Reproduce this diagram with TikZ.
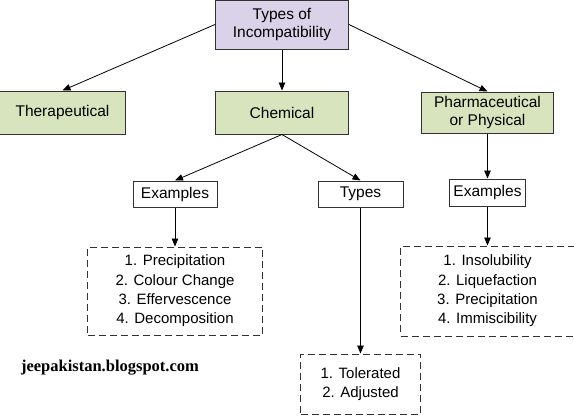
\documentclass[tikz,border=0pt]{standalone}
\usepackage{fontspec}
\setmainfont{Liberation Sans}
\newfontfamily\markfont{Liberation Serif}
\usetikzlibrary{arrows.meta,positioning}
\definecolor{incolilac}{RGB}{217,210,233}
\definecolor{incogreen}{RGB}{215,228,189}
\definecolor{incoline}{RGB}{50,50,50}
\tikzset{
	rootbox/.style={
		rectangle,
		draw=incoline,
		line width=1pt,
		fill=incolilac,
		minimum width=133pt,
		minimum height=49pt,
		inner sep=0pt,
		align=center,
		font=\fontsize{15.5}{18.5}\selectfont,
	},
	kindbox/.style={
		rootbox,
		fill=incogreen,
		minimum height=43pt,
	},
	tagbox/.style={
		rectangle,
		draw=incoline,
		line width=1pt,
		fill=white,
		minimum height=26pt,
		inner sep=0pt,
		font=\fontsize{15.5}{18.5}\selectfont,
	},
	listbox/.style={
		rectangle,
		draw=incoline,
		line width=1pt,
		dash pattern=on 7pt off 4pt,
		inner sep=0pt,
		align=center,
		font=\fontsize{15}{19.3}\selectfont,
	},
	arc/.style={
		-{Triangle[length=8pt,width=6.5pt]},
		line width=0.8pt,
	},
}

\begin{document}
\begin{tikzpicture}[x=1pt,y=-1pt]
	\useasboundingbox (0,0) rectangle (574,418);

	\node [rootbox] (top) at (282,24.5) {Types of\\Incompatibility};

	\node [
	  kindbox,
	  below=41pt of top
	] (chem) {Chemical};
	\node [
	  kindbox,
	  minimum width=126pt,
	  left=89pt of chem
	] (ther) {Therapeutical};
	\node [
	  kindbox,
	  minimum width=132pt,
	  minimum height=41pt,
	  right=72pt of chem
	] (pharm) {Pharmaceutical\\or Physical};

	\node [tagbox, minimum width=84pt] (ex1) at (175,194) {Examples};
	\node [tagbox, minimum width=85pt] (types) at (360.5,194) {Types};
	\node [
	  tagbox,
	  minimum width=76pt,
	  minimum height=27pt,
	  below=45pt of pharm
	] (ex2) {Examples};

	\node [
	  listbox,
	  minimum width=175pt,
	  minimum height=88pt,
	  below=39pt of ex1
	] (list1) {1. Precipitation\\2. Colour Change\\3. Effervescence\\4. Decomposition};
	\node [
	  listbox,
	  minimum width=120pt,
	  minimum height=60pt,
	  below=146pt of types
	] (list2) {1. Tolerated\\2. Adjusted};
	\node [
	  listbox,
	  minimum width=174pt,
	  minimum height=90pt,
	  below=39pt of ex2
	] (list3) {1. Insolubility\\2. Liquefaction\\3. Precipitation\\4. Immiscibility};

	\node [font=\markfont\bfseries\fontsize{16.5}{18}\selectfont] (mark) at (110,368) {jeepakistan.blogspot.com};

	\draw[arc] (top.west) -- (ther.north);
	\draw[arc] (top) -- (chem);
	\draw[arc] (top.east) -- (pharm.north);
	\draw[arc] (chem.south) -- (ex1.north);
	\draw[arc] (chem.south) -- (types.north);
	\draw[arc] (pharm) -- (ex2);
	\draw[arc] (ex1) -- (list1);
	\draw[arc] (types) -- (list2);
	\draw[arc] (ex2) -- (list3);
\end{tikzpicture}
\end{document}
